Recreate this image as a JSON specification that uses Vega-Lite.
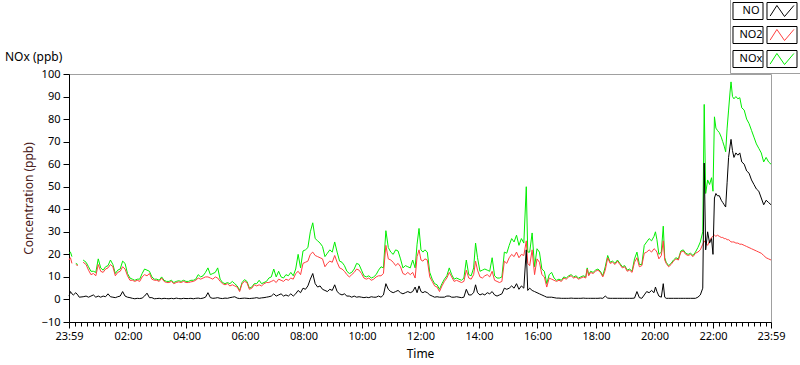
{
"$schema": "https://vega.github.io/schema/vega-lite/v6.json",
"width": 702, "height": 248,
"autosize": {"type": "none"},
"padding": {"left": 69, "top": 74, "right": 29, "bottom": 43},
"background": "white",
"title": {"text": "NOx (ppb)", "anchor": "start", "frame": "group", "dx": -64, "dy": 77, "offset": 12, "fontSize": 12, "font": "Noto Sans", "fontWeight": "normal", "color": "black"},
"config": {
  "view": {"stroke": "#a0a0a0", "strokeWidth": 1},
  "font": "Noto Sans",
  "axis": {"labelFont": "Noto Sans", "labelFontSize": 11, "labelColor": "black", "titleFont": "Noto Sans", "titleFontSize": 12, "titleFontWeight": "normal", "titleColor": "black", "tickColor": "black", "domainColor": "black", "grid": false, "labelOverlap": false},
  "axisY": {"tickSize": 6, "labelPadding": 3, "titlePadding": 6, "titleColor": "#4a2020"}
},
"data": {"values": [
{"m":0,"NO":1.5,"NO2":17.5,"NOx":20.5},{"m":3,"NO":3.5,"NO2":18.5,"NOx":21},{"m":6,"NO":2.5,"NO2":16,"NOx":19},{"m":9,"NO":2,"NO2":null,"NOx":null},{"m":14,"NO":3,"NO2":15.5,"NOx":16},{"m":18,"NO":2,"NO2":15,"NOx":15.5},{"m":21,"NO":1,"NO2":null,"NOx":null},{"m":29,"NO":1.2,"NO2":16.5,"NOx":17.5},{"m":35,"NO":1.5,"NO2":15.5,"NOx":16.5},{"m":40,"NO":1,"NO2":13,"NOx":14.5},{"m":45,"NO":1.5,"NO2":11,"NOx":12.5},{"m":50,"NO":2,"NO2":11.5,"NOx":12.5},{"m":55,"NO":1,"NO2":10.5,"NOx":12},{"m":60,"NO":1.5,"NO2":15.5,"NOx":18},{"m":65,"NO":1,"NO2":12.5,"NOx":14},{"m":70,"NO":1.5,"NO2":12,"NOx":13},{"m":75,"NO":1.2,"NO2":13.5,"NOx":14.5},{"m":80,"NO":2.5,"NO2":14,"NOx":15},{"m":85,"NO":1.2,"NO2":15.5,"NOx":17.5},{"m":90,"NO":1,"NO2":14.5,"NOx":15.5},{"m":95,"NO":0.8,"NO2":10.5,"NOx":11.5},{"m":100,"NO":1.2,"NO2":12,"NOx":13},{"m":105,"NO":1.5,"NO2":12.5,"NOx":13.5},{"m":110,"NO":3.5,"NO2":14.5,"NOx":17},{"m":115,"NO":1.5,"NO2":13.5,"NOx":16},{"m":120,"NO":1,"NO2":10.5,"NOx":11.5},{"m":125,"NO":0.8,"NO2":8.5,"NOx":9.5},{"m":130,"NO":0.5,"NO2":8.5,"NOx":9},{"m":135,"NO":0.3,"NO2":8,"NOx":8.5},{"m":140,"NO":0.5,"NO2":8.5,"NOx":9},{"m":145,"NO":0.4,"NO2":8,"NOx":9},{"m":150,"NO":0.6,"NO2":10,"NOx":11.5},{"m":155,"NO":1.5,"NO2":11,"NOx":13.5},{"m":160,"NO":2.8,"NO2":10.5,"NOx":13},{"m":165,"NO":0.8,"NO2":11.5,"NOx":12.5},{"m":170,"NO":0.8,"NO2":9,"NOx":10},{"m":175,"NO":0.3,"NO2":8.5,"NOx":9},{"m":180,"NO":0.4,"NO2":8.5,"NOx":9},{"m":185,"NO":0.5,"NO2":8,"NOx":8.5},{"m":190,"NO":0.3,"NO2":9.5,"NOx":10},{"m":195,"NO":0.5,"NO2":8,"NOx":8.5},{"m":200,"NO":0.4,"NO2":7.5,"NOx":8},{"m":205,"NO":0.3,"NO2":7.5,"NOx":8},{"m":210,"NO":0.5,"NO2":8,"NOx":8.5},{"m":215,"NO":0.3,"NO2":7,"NOx":7.5},{"m":220,"NO":0.6,"NO2":7.5,"NOx":8},{"m":225,"NO":0.4,"NO2":7.8,"NOx":8.3},{"m":230,"NO":0.3,"NO2":7.5,"NOx":8},{"m":235,"NO":0.5,"NO2":8,"NOx":8.5},{"m":240,"NO":0.4,"NO2":7.5,"NOx":8},
{"m":245,"NO":0.4,"NO2":7.5,"NOx":8},{"m":250,"NO":0.5,"NO2":7.8,"NOx":8.5},{"m":255,"NO":0.3,"NO2":8,"NOx":8.5},{"m":260,"NO":0.5,"NO2":8.5,"NOx":9},{"m":265,"NO":0.6,"NO2":9.5,"NOx":11},{"m":270,"NO":0.4,"NO2":9,"NOx":10},{"m":275,"NO":0.6,"NO2":9.5,"NOx":10.5},{"m":280,"NO":1,"NO2":10,"NOx":12},{"m":285,"NO":3,"NO2":10,"NOx":14},{"m":290,"NO":0.8,"NO2":9.5,"NOx":11},{"m":295,"NO":0.5,"NO2":9,"NOx":11.5},{"m":300,"NO":0.6,"NO2":10,"NOx":12},{"m":305,"NO":0.8,"NO2":9.5,"NOx":14},{"m":310,"NO":0.5,"NO2":8,"NOx":9},{"m":315,"NO":0.4,"NO2":7,"NOx":7.5},{"m":320,"NO":0.6,"NO2":6.5,"NOx":7},{"m":325,"NO":0.5,"NO2":7,"NOx":7.5},{"m":330,"NO":0.8,"NO2":6,"NOx":7},{"m":335,"NO":1,"NO2":6.5,"NOx":8},{"m":340,"NO":1.2,"NO2":6,"NOx":7},{"m":345,"NO":0.6,"NO2":5.5,"NOx":6},{"m":350,"NO":0.4,"NO2":3.5,"NOx":4},{"m":355,"NO":0.5,"NO2":7,"NOx":7.5},{"m":360,"NO":0.6,"NO2":8,"NOx":8.8},{"m":365,"NO":0.5,"NO2":7.5,"NOx":8},{"m":370,"NO":0.4,"NO2":4.5,"NOx":5},{"m":375,"NO":0.5,"NO2":5,"NOx":5.5},{"m":380,"NO":0.6,"NO2":6.5,"NOx":7},{"m":385,"NO":0.8,"NO2":6,"NOx":7},{"m":390,"NO":0.5,"NO2":6.5,"NOx":8.5},{"m":395,"NO":0.7,"NO2":6,"NOx":7},{"m":400,"NO":0.8,"NO2":7,"NOx":7.5},{"m":405,"NO":1,"NO2":7.5,"NOx":8},{"m":410,"NO":1.2,"NO2":7.5,"NOx":9.5},{"m":415,"NO":1.5,"NO2":8,"NOx":10},{"m":420,"NO":2.5,"NO2":8.5,"NOx":13.5},{"m":425,"NO":1.5,"NO2":7.5,"NOx":10},{"m":430,"NO":2,"NO2":9,"NOx":12.5},{"m":435,"NO":2.5,"NO2":8.5,"NOx":10},{"m":440,"NO":1.5,"NO2":8,"NOx":9.5},{"m":445,"NO":2,"NO2":9,"NOx":11},{"m":450,"NO":1.5,"NO2":8.5,"NOx":10.5},{"m":455,"NO":2.5,"NO2":9.5,"NOx":12},{"m":460,"NO":1.5,"NO2":9,"NOx":10.5},{"m":465,"NO":2.5,"NO2":11.5,"NOx":13.5},{"m":470,"NO":4,"NO2":12.5,"NOx":20},{"m":475,"NO":3,"NO2":11,"NOx":14},
{"m":480,"NO":5,"NO2":16,"NOx":21.5},{"m":485,"NO":4.5,"NO2":16.5,"NOx":22},{"m":490,"NO":6,"NO2":17,"NOx":23},{"m":495,"NO":9,"NO2":20,"NOx":30},{"m":500,"NO":11.5,"NO2":21,"NOx":34},{"m":505,"NO":7,"NO2":19.5,"NOx":27},{"m":510,"NO":5.5,"NO2":19,"NOx":26},{"m":515,"NO":6,"NO2":18.5,"NOx":25},{"m":520,"NO":4.5,"NO2":18,"NOx":23.5},{"m":525,"NO":4,"NO2":14.5,"NOx":19},{"m":530,"NO":3.5,"NO2":16,"NOx":20.5},{"m":535,"NO":4.5,"NO2":17,"NOx":22},{"m":540,"NO":4,"NO2":16.5,"NOx":21},{"m":545,"NO":6.5,"NO2":19.5,"NOx":25.5},{"m":550,"NO":3.5,"NO2":16.5,"NOx":21},{"m":555,"NO":2.5,"NO2":14,"NOx":17},{"m":560,"NO":2,"NO2":13.5,"NOx":16.5},{"m":565,"NO":2.5,"NO2":12.5,"NOx":15},{"m":570,"NO":1.5,"NO2":11,"NOx":12.5},{"m":575,"NO":1.5,"NO2":10,"NOx":11.5},{"m":580,"NO":1,"NO2":11,"NOx":12},{"m":585,"NO":1.5,"NO2":12,"NOx":13.5},{"m":590,"NO":1,"NO2":13.5,"NOx":16},{"m":595,"NO":1.2,"NO2":13,"NOx":15.5},{"m":600,"NO":1,"NO2":11.5,"NOx":13},{"m":605,"NO":0.8,"NO2":9.5,"NOx":10.5},{"m":610,"NO":1,"NO2":9,"NOx":10},{"m":615,"NO":0.8,"NO2":9.5,"NOx":10.5},{"m":620,"NO":1.2,"NO2":8.5,"NOx":9.5},{"m":625,"NO":1,"NO2":9,"NOx":10},{"m":630,"NO":1,"NO2":10,"NOx":11},{"m":635,"NO":1.5,"NO2":10.5,"NOx":13},{"m":640,"NO":1,"NO2":10.5,"NOx":14.5},{"m":645,"NO":2,"NO2":11.5,"NOx":14},{"m":650,"NO":7,"NO2":24,"NOx":30.5},{"m":655,"NO":4.5,"NO2":18,"NOx":23},{"m":660,"NO":3.5,"NO2":17.5,"NOx":21},{"m":665,"NO":3,"NO2":16.5,"NOx":20},{"m":670,"NO":3.5,"NO2":15,"NOx":22},{"m":675,"NO":4,"NO2":16,"NOx":21.5},{"m":680,"NO":3,"NO2":14.5,"NOx":18},{"m":685,"NO":2.5,"NO2":11.5,"NOx":14},{"m":690,"NO":3,"NO2":11,"NOx":15},{"m":695,"NO":3.5,"NO2":12,"NOx":14.5},{"m":700,"NO":3,"NO2":11,"NOx":14},{"m":705,"NO":3.5,"NO2":12,"NOx":17.5},
{"m":710,"NO":5.5,"NO2":9.5,"NOx":14},{"m":714,"NO":3,"NO2":19,"NOx":24.5},{"m":718,"NO":6,"NO2":22,"NOx":31.5},{"m":722,"NO":3.5,"NO2":17.5,"NOx":22},{"m":726,"NO":3,"NO2":17,"NOx":21},{"m":730,"NO":3.5,"NO2":18,"NOx":22},{"m":735,"NO":3,"NO2":17.5,"NOx":21},{"m":740,"NO":2,"NO2":10,"NOx":12},{"m":745,"NO":1.5,"NO2":8,"NOx":9},{"m":750,"NO":1,"NO2":6,"NOx":7},{"m":755,"NO":1.2,"NO2":5.5,"NOx":6.5},{"m":760,"NO":1,"NO2":3.5,"NOx":4.5},{"m":765,"NO":1,"NO2":6,"NOx":7},{"m":770,"NO":1,"NO2":8,"NOx":9},{"m":775,"NO":1.5,"NO2":9.5,"NOx":10.5},{"m":780,"NO":1.5,"NO2":12,"NOx":14},{"m":785,"NO":1,"NO2":10,"NOx":11},{"m":790,"NO":1,"NO2":8,"NOx":9},{"m":795,"NO":1.2,"NO2":8.5,"NOx":9.5},{"m":800,"NO":1,"NO2":8,"NOx":9},{"m":805,"NO":0.8,"NO2":7.5,"NOx":8.5},{"m":810,"NO":1,"NO2":8,"NOx":9.5},{"m":815,"NO":4.5,"NO2":13,"NOx":17.5},{"m":820,"NO":2,"NO2":9.5,"NOx":11},{"m":825,"NO":2,"NO2":9,"NOx":10.5},{"m":830,"NO":3,"NO2":11,"NOx":14},{"m":834,"NO":6.5,"NO2":17,"NOx":25},{"m":838,"NO":3,"NO2":13,"NOx":18.5},{"m":843,"NO":2,"NO2":10,"NOx":12.5},{"m":848,"NO":2.5,"NO2":9.5,"NOx":13},{"m":853,"NO":2,"NO2":10.5,"NOx":13.5},{"m":858,"NO":3,"NO2":11,"NOx":13},{"m":863,"NO":2.5,"NO2":10,"NOx":12.5},{"m":868,"NO":3.5,"NO2":12.5,"NOx":18.5},{"m":873,"NO":2,"NO2":8.5,"NOx":10.5},{"m":878,"NO":1.5,"NO2":8,"NOx":9.5},{"m":883,"NO":2,"NO2":7.5,"NOx":9.5},{"m":888,"NO":2.5,"NO2":8,"NOx":10},{"m":893,"NO":5,"NO2":17,"NOx":21},{"m":898,"NO":4.5,"NO2":16,"NOx":20.5},{"m":903,"NO":5,"NO2":18.5,"NOx":24},{"m":908,"NO":6,"NO2":20,"NOx":27},{"m":913,"NO":5,"NO2":19,"NOx":25.5},{"m":918,"NO":7,"NO2":21,"NOx":28.5},{"m":923,"NO":4.5,"NO2":18.5,"NOx":24},{"m":928,"NO":6,"NO2":20,"NOx":27},{"m":933,"NO":5,"NO2":19.5,"NOx":25},{"m":938,"NO":22,"NO2":26,"NOx":50},{"m":941,"NO":4,"NO2":16,"NOx":21},
{"m":945,"NO":5,"NO2":15,"NOx":21},{"m":950,"NO":4,"NO2":22,"NOx":29.5},{"m":955,"NO":3.5,"NO2":11,"NOx":14.5},{"m":960,"NO":3,"NO2":18,"NOx":22.5},{"m":965,"NO":2.5,"NO2":16.5,"NOx":21},{"m":970,"NO":2,"NO2":11,"NOx":13.5},{"m":975,"NO":1.5,"NO2":10,"NOx":12.5},{"m":980,"NO":1,"NO2":5.5,"NOx":7},{"m":985,"NO":1,"NO2":9.5,"NOx":11},{"m":990,"NO":1,"NO2":9,"NOx":12},{"m":995,"NO":0.8,"NO2":8.5,"NOx":9.5},{"m":1000,"NO":0.6,"NO2":8,"NOx":8.5},{"m":1005,"NO":0.6,"NO2":8.5,"NOx":9},{"m":1010,"NO":0.5,"NO2":8,"NOx":8.5},{"m":1015,"NO":0.5,"NO2":9.5,"NOx":10},{"m":1020,"NO":0.5,"NO2":9,"NOx":9.5},{"m":1025,"NO":0.5,"NO2":10,"NOx":10.5},{"m":1030,"NO":0.6,"NO2":10.5,"NOx":11},{"m":1035,"NO":0.5,"NO2":9.5,"NOx":10},{"m":1040,"NO":0.5,"NO2":10,"NOx":10.5},{"m":1045,"NO":0.5,"NO2":9,"NOx":9.5},{"m":1050,"NO":0.5,"NO2":9.5,"NOx":10},{"m":1055,"NO":0.6,"NO2":10,"NOx":10.5},{"m":1060,"NO":0.5,"NO2":9.5,"NOx":10},{"m":1063,"NO":0.5,"NO2":13.5,"NOx":14},{"m":1066,"NO":0.5,"NO2":10.5,"NOx":11},{"m":1070,"NO":0.5,"NO2":12,"NOx":12.5},{"m":1075,"NO":0.5,"NO2":11.5,"NOx":12},{"m":1080,"NO":0.5,"NO2":12.5,"NOx":13},{"m":1085,"NO":0.5,"NO2":13,"NOx":13.5},{"m":1090,"NO":0.6,"NO2":12,"NOx":12.5},{"m":1095,"NO":0.5,"NO2":10,"NOx":10.5},{"m":1100,"NO":1.5,"NO2":13,"NOx":14.5},{"m":1105,"NO":0.6,"NO2":18.5,"NOx":19.5},{"m":1110,"NO":0.5,"NO2":16,"NOx":16.5},{"m":1115,"NO":0.5,"NO2":16.5,"NOx":17},{"m":1120,"NO":0.5,"NO2":15.5,"NOx":16},{"m":1125,"NO":0.5,"NO2":17,"NOx":17.5},{"m":1130,"NO":0.5,"NO2":15.5,"NOx":16},{"m":1135,"NO":0.5,"NO2":14,"NOx":14.5},{"m":1140,"NO":0.5,"NO2":14.5,"NOx":15},{"m":1145,"NO":0.5,"NO2":12.5,"NOx":13},{"m":1150,"NO":0.5,"NO2":13,"NOx":13.5},{"m":1155,"NO":0.5,"NO2":12,"NOx":12.5},{"m":1160,"NO":0.6,"NO2":16.5,"NOx":18},{"m":1165,"NO":3.5,"NO2":18.5,"NOx":21},{"m":1170,"NO":0.8,"NO2":14.5,"NOx":15.5},{"m":1175,"NO":0.5,"NO2":15,"NOx":15.5},{"m":1180,"NO":2,"NO2":20.5,"NOx":24},{"m":1185,"NO":3.5,"NO2":21,"NOx":25.5},{"m":1190,"NO":3,"NO2":22,"NOx":27},{"m":1195,"NO":4,"NO2":21,"NOx":26},{"m":1200,"NO":3,"NO2":22.5,"NOx":28},{"m":1203,"NO":5.5,"NO2":22,"NOx":30},{"m":1206,"NO":3.5,"NO2":21,"NOx":26.5},{"m":1210,"NO":1.5,"NO2":18,"NOx":20},{"m":1215,"NO":1,"NO2":19.5,"NOx":21},{"m":1219,"NO":7,"NO2":26,"NOx":32.5},{"m":1222,"NO":1,"NO2":17.5,"NOx":18.5},{"m":1225,"NO":0.5,"NO2":16,"NOx":16.5},{"m":1230,"NO":0.5,"NO2":14.5,"NOx":15},{"m":1235,"NO":0.5,"NO2":15.5,"NOx":16},{"m":1240,"NO":0.5,"NO2":17,"NOx":17.5},{"m":1245,"NO":0.5,"NO2":18,"NOx":18.5},{"m":1250,"NO":0.5,"NO2":17.5,"NOx":18},{"m":1255,"NO":0.5,"NO2":21,"NOx":21.5},{"m":1260,"NO":0.5,"NO2":21.5,"NOx":22},{"m":1265,"NO":0.5,"NO2":20,"NOx":20.5},{"m":1270,"NO":0.5,"NO2":19.5,"NOx":20},{"m":1275,"NO":0.5,"NO2":20,"NOx":20.5},{"m":1280,"NO":0.5,"NO2":19,"NOx":19.5},{"m":1285,"NO":0.5,"NO2":20.5,"NOx":21},{"m":1290,"NO":1,"NO2":21,"NOx":23},{"m":1295,"NO":2,"NO2":22,"NOx":25.5},{"m":1300,"NO":5,"NO2":24.5,"NOx":30},
{"m":1303,"NO":60.5,"NO2":26,"NOx":86.5},{"m":1306,"NO":22,"NO2":25,"NOx":47},{"m":1310,"NO":30,"NO2":24,"NOx":53},{"m":1314,"NO":25,"NO2":26,"NOx":51},{"m":1318,"NO":27,"NO2":27.5,"NOx":54},{"m":1321,"NO":20,"NO2":28,"NOx":48},{"m":1324,"NO":45,"NO2":28.5,"NOx":81},{"m":1327,"NO":47,"NO2":28,"NOx":76},{"m":1330,"NO":46,"NO2":28.5,"NOx":75},{"m":1334,"NO":46,"NO2":28,"NOx":74},{"m":1338,"NO":44,"NO2":27.5,"NOx":72},{"m":1341,"NO":43,"NO2":27.5,"NOx":70},{"m":1344,"NO":42,"NO2":27,"NOx":68},{"m":1347,"NO":41,"NO2":27,"NOx":65.5},{"m":1350,"NO":52,"NO2":26.5,"NOx":76},{"m":1353,"NO":63,"NO2":26.5,"NOx":84},{"m":1356,"NO":68,"NO2":26,"NOx":92},{"m":1358,"NO":71,"NO2":25.5,"NOx":96.5},{"m":1361,"NO":66,"NO2":25.5,"NOx":90},{"m":1364,"NO":63,"NO2":25.5,"NOx":89},{"m":1368,"NO":65,"NO2":25,"NOx":90},{"m":1372,"NO":64,"NO2":25,"NOx":89},{"m":1376,"NO":65,"NO2":24.5,"NOx":89.5},{"m":1380,"NO":61,"NO2":24.5,"NOx":85},{"m":1385,"NO":60,"NO2":24,"NOx":84},{"m":1390,"NO":57,"NO2":23.5,"NOx":80},{"m":1395,"NO":56,"NO2":23,"NOx":78},{"m":1400,"NO":53,"NO2":22.5,"NOx":75},{"m":1405,"NO":51,"NO2":22,"NOx":72},{"m":1410,"NO":49,"NO2":21.5,"NOx":69},{"m":1415,"NO":48,"NO2":21,"NOx":67},{"m":1420,"NO":45,"NO2":20.5,"NOx":65},{"m":1425,"NO":42,"NO2":19.5,"NOx":61},{"m":1430,"NO":44,"NO2":18.5,"NOx":63},{"m":1435,"NO":43,"NO2":18,"NOx":61},{"m":1440,"NO":42,"NO2":17.5,"NOx":60}
]},
"encoding": {
  "x": {"field": "m", "type": "quantitative", "scale": {"domain": [0, 1440], "nice": false, "zero": false}, "title": "Time",
    "axis": {"values": [0,13,25,37,49,61,73,85,97,109,121,133,145,157,169,181,193,205,217,229,241,253,265,277,289,301,313,325,337,349,361,373,385,397,409,421,433,445,457,469,481,493,505,517,529,541,553,565,577,589,601,613,625,637,649,661,673,685,697,709,721,733,745,757,769,781,793,805,817,829,841,853,865,877,889,901,913,925,937,949,961,973,985,997,1009,1021,1033,1045,1057,1069,1081,1093,1105,1117,1129,1141,1153,1165,1177,1189,1201,1213,1225,1237,1249,1261,1273,1285,1297,1309,1321,1333,1345,1357,1369,1381,1393,1405,1417,1429,1440],
      "tickCount": 500,
      "labelExpr": "datum.value == 0 || datum.value == 1440 ? '23:59' : ((datum.value - 1) % 120 == 0 ? (((datum.value - 1) / 60 < 10) ? '0' : '') + ((datum.value - 1) / 60) + ':00' : '')",
      "tickSize": {"condition": {"test": "datum.value == 0 || datum.value == 1440 || (datum.value - 1) % 120 == 0", "value": 6}, "value": 4},
      "labelOverlap": false, "labelFlush": false, "labelPadding": 2, "titlePadding": 7}}
},
"layer": [
  {"mark": {"type": "line", "strokeWidth": 1},
   "encoding": {
     "y": {"field": "NOx", "type": "quantitative", "scale": {"domain": [-10, 100], "nice": false, "zero": false}, "title": "Concentration (ppb)", "axis": {"values": [-10,0,10,20,30,40,50,60,70,80,90,100], "tickCount": 50, "labelOverlap": false}},
     "color": {"datum": "NOx", "type": "nominal",
       "scale": {"domain": ["NO", "NO2", "NOx"], "range": ["#000000", "#ff4040", "#00ee00"]},
       "legend": {"orient": "none", "legendX": 704, "legendY": -72, "title": null, "padding": 0,
         "symbolType": "M0,-1M0,1M-1.4,0.6L-0.6,-0.65L0.3,0.65L1.4,-0.65", "symbolSize": 289, "symbolStrokeWidth": 1, "symbolFillColor": "transparent",
         "rowPadding": 2, "labelAlign": "center", "labelOffset": -40, "labelFontSize": 11, "labelFont": "Noto Sans", "labelColor": "black"}}}},
  {"mark": {"type": "line", "strokeWidth": 1},
   "encoding": {
     "y": {"field": "NO2", "type": "quantitative", "title": "Concentration (ppb)", "axis": {"values": [-10,0,10,20,30,40,50,60,70,80,90,100], "tickCount": 50, "labelOverlap": false}},
     "color": {"datum": "NO2", "type": "nominal"}}},
  {"mark": {"type": "line", "strokeWidth": 1},
   "encoding": {
     "y": {"field": "NO", "type": "quantitative", "title": "Concentration (ppb)", "axis": {"values": [-10,0,10,20,30,40,50,60,70,80,90,100], "tickCount": 50, "labelOverlap": false}},
     "color": {"datum": "NO", "type": "nominal"}}},
  {"mark": {"type": "point", "filled": false, "color": "black"},
   "transform": [{"filter": "false"}],
   "encoding": {
     "y": {"field": "NO", "type": "quantitative", "title": "Concentration (ppb)", "axis": {"values": [-10,0,10,20,30,40,50,60,70,80,90,100], "tickCount": 50, "labelOverlap": false}},
     "shape": {"datum": "box1", "type": "nominal",
       "scale": {"domain": ["box1", "box2", "box3"], "range": ["M-1.059,-1H2.471V1H-1.059Z M2.941,-1H6.471V1H2.941Z", "M-1.059,-1H2.471V1H-1.059Z M2.941,-1H6.471V1H2.941Z", "M-1.059,-1H2.471V1H-1.059Z M2.941,-1H6.471V1H2.941Z"]},
       "legend": {"orient": "none", "legendX": 661, "legendY": -75, "title": null, "padding": 3,
         "symbolSize": 289, "symbolStrokeColor": "black", "symbolStrokeWidth": 1, "symbolFillColor": "transparent", "symbolOpacity": 1,
         "rowPadding": 2, "labelExpr": "''", "labelOffset": -3, "labelAlign": "center", "labelFontSize": 11, "strokeColor": "#a0a0a0"}}}},
  {"data": {"values": [{}]},
   "mark": {"type": "rule", "color": "black", "strokeWidth": 1},
   "encoding": {"x": {"datum": 0}, "x2": {"datum": 1440}, "y": {"datum": 100}}}
]
}
